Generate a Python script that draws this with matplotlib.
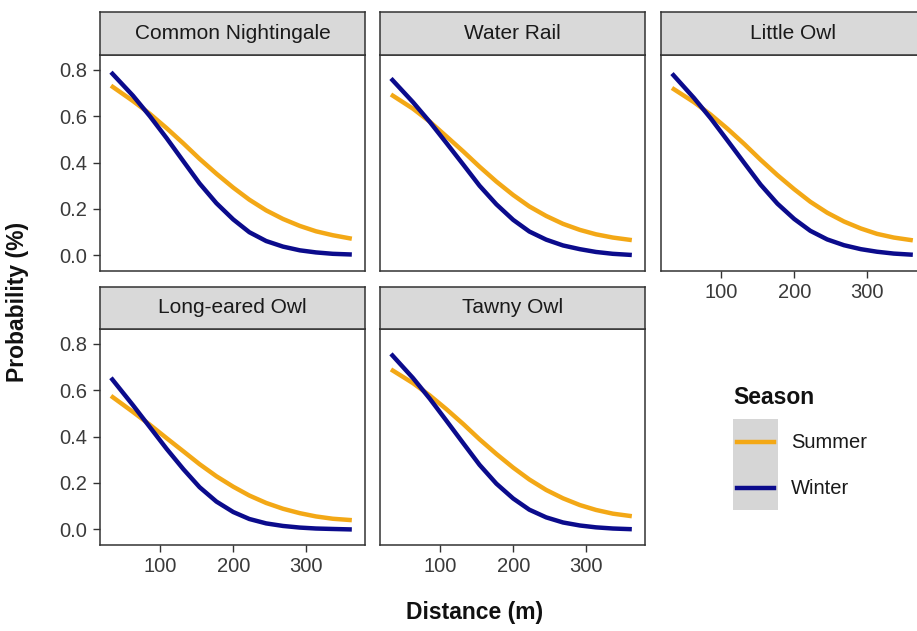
import numpy as np
import matplotlib
matplotlib.use("Agg")
import matplotlib.pyplot as plt
from matplotlib.lines import Line2D
from matplotlib.patches import Rectangle

plt.rcParams['font.family'] = ['Liberation Sans', 'DejaVu Sans']

# distance grid (m)
distance = [33, 63, 86, 109, 132, 154, 177, 200, 222, 245, 268, 291, 313, 336, 362]

species = ["Common Nightingale", "Water Rail", "Little Owl",
           "Long-eared Owl", "Tawny Owl"]

summer_nightingale = [0.731, 0.665, 0.610, 0.548, 0.482, 0.416, 0.352, 0.292,
                      0.240, 0.194, 0.157, 0.127, 0.104, 0.087, 0.072]
winter_nightingale = [0.789, 0.688, 0.600, 0.505, 0.405, 0.310, 0.225, 0.155,
                      0.100, 0.062, 0.038, 0.022, 0.013, 0.007, 0.004]

summer_waterrail = [0.693, 0.632, 0.576, 0.512, 0.447, 0.382, 0.318, 0.260,
                    0.211, 0.170, 0.136, 0.110, 0.091, 0.077, 0.066]
winter_waterrail = [0.762, 0.660, 0.575, 0.483, 0.390, 0.300, 0.220, 0.153,
                    0.103, 0.068, 0.043, 0.027, 0.015, 0.007, 0.002]

summer_littleowl = [0.721, 0.660, 0.606, 0.545, 0.479, 0.412, 0.346, 0.285,
                    0.231, 0.184, 0.146, 0.116, 0.093, 0.077, 0.065]
winter_littleowl = [0.783, 0.678, 0.590, 0.494, 0.397, 0.305, 0.223, 0.157,
                    0.106, 0.069, 0.044, 0.027, 0.016, 0.008, 0.003]

summer_longeared = [0.575, 0.506, 0.451, 0.393, 0.336, 0.281, 0.229, 0.184,
                    0.146, 0.114, 0.089, 0.070, 0.056, 0.046, 0.040]
winter_longeared = [0.653, 0.535, 0.441, 0.347, 0.259, 0.182, 0.120, 0.075,
                    0.045, 0.026, 0.015, 0.008, 0.004, 0.002, 0.000]

summer_tawny = [0.689, 0.630, 0.577, 0.517, 0.453, 0.388, 0.325, 0.266,
                0.215, 0.170, 0.134, 0.105, 0.084, 0.068, 0.057]
winter_tawny = [0.756, 0.652, 0.563, 0.467, 0.370, 0.278, 0.197, 0.133,
                0.085, 0.052, 0.030, 0.017, 0.009, 0.004, 0.001]

summer = [summer_nightingale, summer_waterrail, summer_littleowl,
          summer_longeared, summer_tawny]
winter = [winter_nightingale, winter_waterrail, winter_littleowl,
          winter_longeared, winter_tawny]

seasons = ["Summer", "Winter"]
colors = {"Summer": "#F3A816", "Winter": "#0B0B8C"}

W, H = 917, 631
fig = plt.figure(figsize=(W / 100, H / 100), dpi=100)


def box(x0, y0, x1, y1):
    # pixel box (top-left origin) -> figure fraction rect
    return [x0 / W, 1 - y1 / H, (x1 - x0) / W, (y1 - y0) / H]


cols = [(100, 365), (380, 645), (661, 926)]
rows = [(12, 55, 271), (287, 329, 545)]  # strip top, panel top, panel bottom
edge = "#333333"
lw = 3.2

for i, name in enumerate(species):
    r, c = divmod(i, 3)
    x0, x1 = cols[c]
    st, pt, pb = rows[r]

    ax = fig.add_axes(box(x0, pt, x1, pb))
    ax.plot(distance, summer[i], color=colors["Summer"], lw=lw,
            solid_capstyle="butt", solid_joinstyle="round")
    ax.plot(distance, winter[i], color=colors["Winter"], lw=lw,
            solid_capstyle="butt", solid_joinstyle="round")
    ax.set_xlim(18, 380)
    ax.set_ylim(-0.067, 0.863)
    ax.set_xticks([100, 200, 300])
    ax.set_yticks([0.0, 0.2, 0.4, 0.6, 0.8])
    ax.set_yticklabels(["0.0", "0.2", "0.4", "0.6", "0.8"])
    for s in ax.spines.values():
        s.set_color(edge)
        s.set_linewidth(1.1)
    ax.tick_params(length=5, width=1, color=edge, labelsize=14.5,
                   labelcolor="#3a3a3a", pad=4)
    # axes only on the outer side, like facet_wrap
    if c != 0:
        ax.tick_params(left=False, labelleft=False)
    if not (r == 1 or i == 2):
        ax.tick_params(bottom=False, labelbottom=False)

    sax = fig.add_axes(box(x0, st, x1, pt))
    sax.set_facecolor("#D9D9D9")
    sax.set_xticks([])
    sax.set_yticks([])
    for s in sax.spines.values():
        s.set_color(edge)
        s.set_linewidth(1.1)
    sax.text(0.5, 0.5, name, ha="center", va="center", fontsize=15,
             color="#1A1A1A", transform=sax.transAxes)

fig.text(475 / W, 1 - 612 / H, "Distance (m)", ha="center", va="center",
         fontsize=16.5, fontweight="bold", color="#111111")
fig.text(18 / W, 1 - 302 / H, "Probability (%)", ha="center", va="center",
         rotation=90, fontsize=16.5, fontweight="bold", color="#111111")

# legend drawn by hand, ggplot-style
fig.text(733 / W, 1 - 398 / H, "Season", ha="left", va="center",
         fontsize=16.5, fontweight="bold", color="#111111")
fig.patches.append(Rectangle((733 / W, 1 - 510 / H), 45 / W, 91 / H,
                             transform=fig.transFigure, facecolor="#D6D6D6",
                             edgecolor="none"))
for season, ypx in zip(seasons, [442, 488]):
    fig.lines.append(Line2D([737 / W, 774 / W], [1 - ypx / H, 1 - ypx / H],
                            transform=fig.transFigure, color=colors[season],
                            lw=lw))
    fig.text(791 / W, 1 - ypx / H, season, ha="left", va="center",
             fontsize=14.5, color="#1A1A1A")

fig.savefig("out.png", dpi=100)
